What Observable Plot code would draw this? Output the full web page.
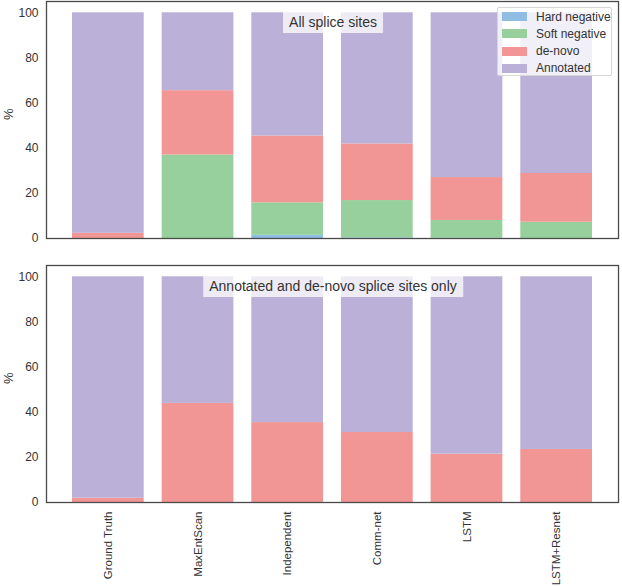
<!DOCTYPE html>
<html>
<head>
<meta charset="utf-8">
<script src="https://cdn.jsdelivr.net/npm/d3@7"></script>
<script src="https://cdn.jsdelivr.net/npm/@observablehq/plot@0.6"></script>
<style>
  html, body { margin: 0; padding: 0; background: #fff; }
  #chart { position: relative; width: 622px; height: 587px; font-family: "Liberation Sans", Arial, sans-serif; color: #333; }
  #chart svg { display: block; overflow: visible; }
  .panel-title { position: absolute; font-size: 14px; line-height: 21px; padding: 0 6px; background: rgba(255,255,255,0.75); color: #333; white-space: nowrap; transform: translateX(-50%); }
  .legend { position: absolute; left: 497px; top: 7px; width: 115px; height: 69px; border: 1px solid #d6d6d6; border-radius: 2px; background: rgba(255,255,255,0.8); box-sizing: border-box; }
  .legend .row { position: absolute; left: 4px; height: 17px; display: flex; align-items: center; font-size: 12px; color: #333; white-space: nowrap; }
  .legend .sw { width: 25px; height: 9px; margin-right: 9px; }
</style>
</head>
<body>
<div id="chart"></div>
<script>
const categories = ["Ground Truth", "MaxEntScan", "Independent", "Comm-net", "LSTM", "LSTM+Resnet"];
const series = ["Hard negative", "Soft negative", "de-novo", "Annotated"];
const colors = ["#8fbde3", "#97d09c", "#f29595", "#bab0d8"];

// Panel 1: All splice sites (segment heights, %)
const allHard      = [0,    0,    1.4,  0.3,  0.1,  0];
const allSoft      = [0,    37.0, 14.4, 16.5, 7.9,  7.2];
const allDeNovo    = [2.3,  28.5, 29.6, 25.1, 19.0, 21.6];
const allAnnotated = [97.7, 34.5, 54.6, 58.1, 73.0, 71.2];

// Panel 2: Annotated and de-novo splice sites only (%)
const onlyDeNovo    = [1.9,  43.9, 35.4, 31.0, 21.4, 23.5];
const onlyAnnotated = [98.1, 56.1, 64.6, 69.0, 78.6, 76.5];

const yTicks = [0, 20, 40, 60, 80, 100];

function longData(cols) {
  const rows = [];
  categories.forEach((c, i) => {
    cols.forEach(([s, arr]) => rows.push({cat: c, series: s, value: arr[i]}));
  });
  return rows;
}

const topData = longData([["Hard negative", allHard], ["Soft negative", allSoft], ["de-novo", allDeNovo], ["Annotated", allAnnotated]]);
const botData = longData([["de-novo", onlyDeNovo], ["Annotated", onlyAnnotated]]);

function panel(data, opts) {
  return Plot.plot({
    width: 622,
    height: opts.height,
    marginLeft: 46,
    marginRight: 4,
    marginTop: opts.marginTop,
    marginBottom: opts.marginBottom,
    style: {fontFamily: "Liberation Sans, Arial, sans-serif", fontSize: "12px", color: "#333", background: "transparent"},
    x: {type: "band", domain: categories, paddingInner: 0.2, paddingOuter: 0.29, round: false},
    y: {domain: [0, 105]},
    color: {domain: series, range: colors},
    marks: [
      Plot.barY(data, {x: "cat", y: "value", fill: "series"}),
      Plot.frame({stroke: "#4a4a4a", strokeWidth: 1.3}),
      Plot.axisY({ticks: yTicks, tickSize: 0, tickPadding: 8, label: null, fontSize: 12}),
      Plot.text(["%"], {frameAnchor: "left", dx: -38, rotate: -90, fontSize: 13, fill: "#333"}),
      opts.showX
        ? Plot.axisX({tickSize: 0, tickPadding: 9, tickRotate: -90, label: null, fontSize: 11.5})
        : Plot.axisX({ticks: [], label: null})
    ]
  });
}

const root = document.getElementById("chart");
root.appendChild(panel(topData, {height: 250, marginTop: 1, marginBottom: 12, showX: false}));
root.appendChild(panel(botData, {height: 337, marginTop: 15, marginBottom: 85, showX: true}));

// panel titles
const titles = [["All splice sites", 12], ["Annotated and de-novo splice sites only", 276]];
titles.forEach(([t, top]) => {
  const d = document.createElement("div");
  d.className = "panel-title";
  d.textContent = t;
  d.style.left = "333px";
  d.style.top = top + "px";
  root.appendChild(d);
});

// legend
const lg = document.createElement("div");
lg.className = "legend";
series.forEach((s, i) => {
  const r = document.createElement("div");
  r.className = "row";
  r.style.top = (0 + i * 17.3) + "px";
  const sw = document.createElement("div");
  sw.className = "sw";
  sw.style.background = colors[i];
  r.appendChild(sw);
  r.appendChild(document.createTextNode(s));
  lg.appendChild(r);
});
root.appendChild(lg);
</script>
</body>
</html>
